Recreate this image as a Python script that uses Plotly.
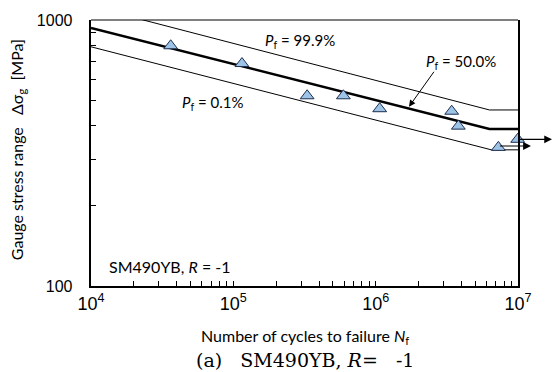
import numpy as np
import plotly.graph_objects as go

# ---- data ----
cycles = [36300, 115000, 330000, 593000, 1.067e6, 3.42e6, 3.81e6, 7.28e6, 9.95e6]
stress = [800, 686, 519, 519, 464, 454, 399, 332, 356]

p50_N = [1e4, 6.3e6, 1e7]
p50_S = [934, 389, 389]
p999_N = [1e4, 6.3e6, 1e7]
p999_S = [1125, 459, 459]
p001_N = [1e4, 6.5e6, 1e7]
p001_S = [793, 325, 325]

x_tickvals = [1e4, 1e5, 1e6, 1e7]
x_ticktext = ["10<sup>4</sup>", "10<sup>5</sup>", "10<sup>6</sup>", "10<sup>7</sup>"]
y_tickvals = [100, 1000]
y_ticktext = ["100", "1000"]

sans = "Lato"
arial = "Liberation Sans"
serif = "DejaVu Serif"

fig = go.Figure()
fig.add_trace(go.Scatter(x=p999_N, y=p999_S, mode="lines",
                         line=dict(color="black", width=1), hoverinfo="skip"))
fig.add_trace(go.Scatter(x=p001_N, y=p001_S, mode="lines",
                         line=dict(color="black", width=1), hoverinfo="skip"))
fig.add_trace(go.Scatter(x=p50_N, y=p50_S, mode="lines",
                         line=dict(color="black", width=2.5), hoverinfo="skip"))

# run-out arrows (drawn before markers so markers sit on top)
runouts = [(9.95e6, 356, 10 ** 7.239), (7.28e6, 336, 10 ** 7.091)]
for n0, s0, n1 in runouts:
    fig.add_annotation(x=np.log10(n1), y=np.log10(s0), ax=np.log10(n0), ay=np.log10(s0),
                       xref="x", yref="y", axref="x", ayref="y", text="",
                       showarrow=True, arrowhead=2, arrowsize=1.3, arrowwidth=1.2,
                       arrowcolor="black")

fig.add_trace(go.Scatter(x=cycles, y=stress, mode="markers",
                         marker=dict(symbol="triangle-up", size=12, color="#9DC3E6",
                                     line=dict(color="#1F2F4F", width=1)),
                         cliponaxis=False, hoverinfo="skip"))

minor_x = [m * 10 ** e for e in range(4, 7) for m in range(2, 10)]
minor_y = [m * 100 for m in range(2, 10)]

fig.update_xaxes(type="log", range=[4, 7], tickvals=x_tickvals, ticktext=x_ticktext,
                 ticks="inside", ticklen=5, tickwidth=1, tickcolor="black",
                 showline=True, linewidth=2, linecolor="black", mirror=False,
                 showgrid=False, zeroline=False,
                 tickfont=dict(family=arial, size=18, color="black"),
                 ticklabelstandoff=0,
                 minor=dict(tickvals=minor_x, ticks="inside", ticklen=5, tickwidth=1,
                            tickcolor="black", showgrid=False))
fig.update_yaxes(type="log", range=[2, 3], tickvals=y_tickvals,
                 ticktext=[t + "\u00a0\u00a0\u00a0" for t in y_ticktext],
                 ticks="inside", ticklen=5, tickwidth=1, tickcolor="black",
                 showline=True, linewidth=2, linecolor="black", mirror=True,
                 showgrid=False, zeroline=False,
                 tickfont=dict(family=arial, size=16, color="black"),
                 minor=dict(tickvals=minor_y, ticks="inside", ticklen=5, tickwidth=1,
                            tickcolor="black", showgrid=False))

# top border
fig.add_shape(type="line", xref="paper", yref="paper", x0=0, x1=1, y0=1, y1=1,
              line=dict(color="black", width=1))

txt = dict(family=sans, size=16, color="black")
ptxt = dict(family=sans, size=15, color="black")
fig.add_annotation(x=5.468, y=2.922, xref="x", yref="y", showarrow=False,
                   text="<i>P</i><sub>f</sub> = 99.9%", font=ptxt)
fig.add_annotation(x=6.600, y=2.844, xref="x", yref="y", showarrow=False,
                   text="<i>P</i><sub>f</sub> = 50.0%", font=ptxt)
fig.add_annotation(x=4.857, y=2.689, xref="x", yref="y", showarrow=False,
                   text="<i>P</i><sub>f</sub> = 0.1%", font=ptxt)
fig.add_annotation(x=6.234, y=2.674, ax=6.417, ay=2.811, xref="x", yref="y",
                   axref="x", ayref="y", text="", showarrow=True, arrowhead=2,
                   arrowsize=1.3, arrowwidth=1, arrowcolor="black")
fig.add_annotation(x=4.112, y=2.074, xref="x", yref="y", xanchor="left", showarrow=False,
                   text="SM490YB, <i>R</i> = -1", font=txt)

# axis titles and caption
fig.add_annotation(x=-0.173, y=0.511, xref="paper", yref="paper", showarrow=False,
                   textangle=-90, xanchor="center", yanchor="middle",
                   text="Gauge stress range &nbsp; Δσ<sub>g</sub> &nbsp;[MPa]", font=txt)
fig.add_annotation(x=0.5, y=-0.19, xref="paper", yref="paper", showarrow=False,
                   xanchor="center", yanchor="middle",
                   text="Number of cycles to failure <i>N</i><sub>f</sub>", font=txt)
fig.add_annotation(x=0.5, y=-0.277, xref="paper", yref="paper", showarrow=False,
                   xanchor="center", yanchor="middle",
                   text="(a)&nbsp;&nbsp;&nbsp;SM490YB, <i>R</i>=&nbsp;&nbsp;&nbsp;-1",
                   font=dict(family=serif, size=19, color="black"))

fig.update_layout(width=552, height=372, margin=dict(l=91, r=34, t=16, b=86),
                  paper_bgcolor="white", plot_bgcolor="white", showlegend=False)

fig.write_html("out.html", post_script="document.body.style.margin='0';",
               config={"displayModeBar": False})
